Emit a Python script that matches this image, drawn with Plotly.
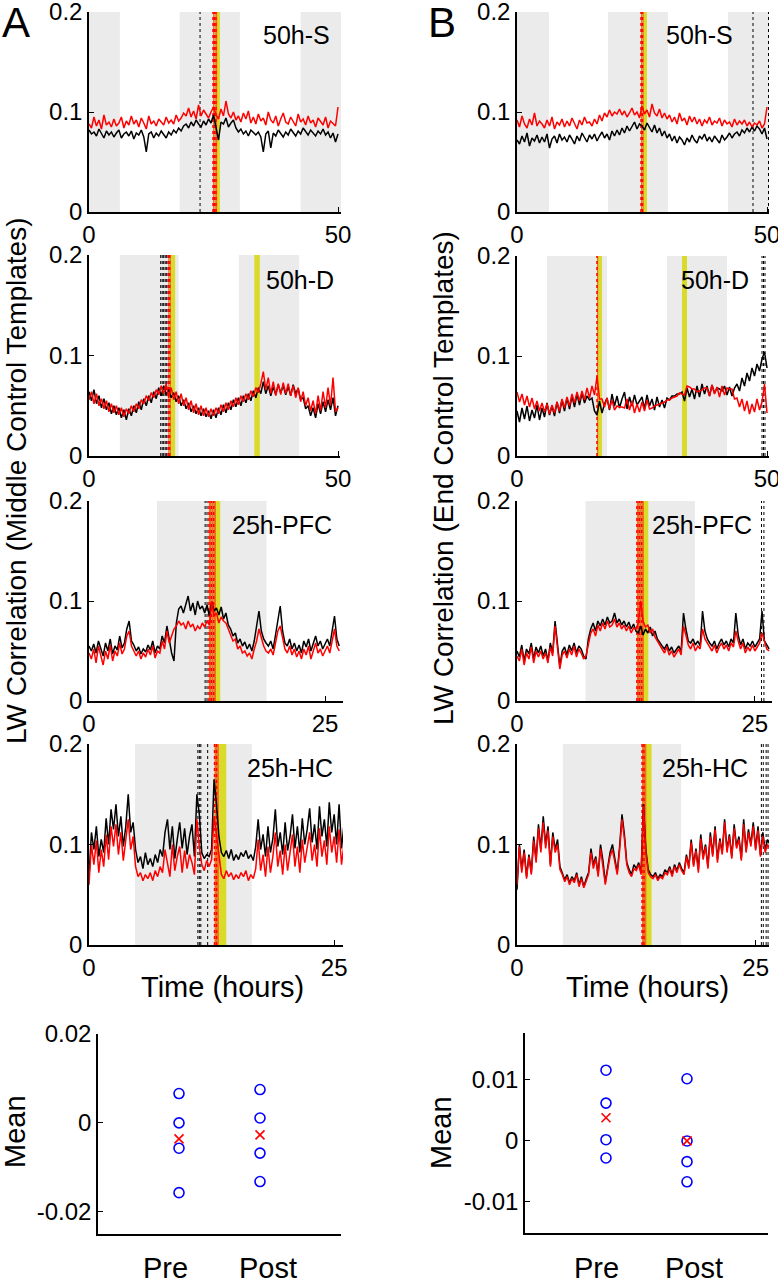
import numpy as np
import plotly.graph_objects as go

# sample times (hours)
hours_50 = np.arange(101) * 0.5
hours_25 = np.arange(107) * 0.25

# LW correlation traces, in units of 0.001
a1_black = [82,78,80,76,83,79,74,81,77,80, 75,79,82,74,78,80,76,81,73,79,
            77,82,75,60,78,80,74,79,76,81, 78,74,80,77,82,79,84,81,86,88,
            84,90,86,92,88,85,91,87,93,89, 97,86,72,90,88,94,85,89,92,84,
            80,83,78,81,76,82,79,77,80,75, 60,78,81,64,79,76,82,78,75,80,
            77,83,79,76,81,78,84,80,77,82, 79,76,81,78,83,77,80,74,79,70,78]
a1_red = [88,84,95,86,92,83,97,87,90,85, 93,86,89,95,84,91,87,96,88,92,
          85,94,89,83,96,88,91,86,93,90, 87,95,89,92,88,97,91,94,99,96,
          104,95,101,93,107,96,102,98,94,100, 105,97,93,103,96,111,98,94,100,92,
          96,90,99,93,101,89,95,88,98,91, 94,87,100,92,89,96,86,93,99,90,
          88,95,91,86,98,90,93,87,96,89, 92,85,94,90,87,95,84,91,88,86,105]
b1_black = [72,68,76,70,79,66,74,71,77,69, 75,70,78,64,73,76,69,78,72,75,
            70,77,73,68,76,71,79,74,70,77, 73,78,71,76,80,74,78,72,81,76,
            82,77,84,79,86,81,85,90,83,88, 86,82,89,84,80,87,79,84,76,81,
            74,78,71,76,69,75,72,67,74,70, 77,72,69,76,73,78,71,75,70,76,
            73,69,77,72,75,79,74,78,80,76, 82,79,84,80,85,81,86,83,78,84,73]
b1_red = [92,85,96,88,84,93,87,99,86,91, 88,84,92,86,95,83,90,87,93,85,
          91,86,94,88,83,92,87,95,89,90, 86,93,88,97,91,99,95,102,96,100,
          98,103,97,101,95,99,104,97,100,94, 106,98,102,95,108,99,96,103,94,99,
          93,97,90,95,88,99,91,94,87,96, 90,95,88,93,86,92,89,95,87,91,
          89,94,86,92,88,90,85,93,87,91, 88,92,86,90,85,89,87,91,84,88,105]
a2_black = [64,55,66,52,60,48,57,46,53,42, 50,41,48,38,46,36,47,40,50,43,
            54,46,57,50,60,53,64,57,68,60, 70,61,66,58,63,54,60,50,56,47,
            53,44,50,42,48,40,47,39,45,37, 46,38,48,41,51,43,53,46,56,49,
            58,50,60,53,62,55,65,58,68,62, 74,62,70,60,69,61,71,63,70,61,
            69,60,71,62,67,56,58,47,50,40, 48,38,52,42,54,44,56,46,58,40,50]
a2_red = [56,64,52,62,50,57,47,55,44,52, 43,50,41,48,39,47,42,50,44,52,
          47,56,52,60,55,63,58,66,61,70, 62,72,58,68,56,64,52,62,50,58,
          46,55,43,52,41,50,40,48,39,47, 40,48,42,51,44,53,46,55,49,58,
          51,60,54,62,56,65,59,68,63,72, 84,66,78,62,74,60,72,61,73,62,
          72,60,70,58,68,54,64,50,58,45, 55,42,60,45,64,48,68,50,78,44,48]
b2_black = [45,34,48,37,50,35,46,38,51,36, 48,39,53,41,50,40,54,43,56,45,
            58,47,60,49,62,51,63,53,60,56, 58,45,41,55,43,52,58,46,62,50,
            60,48,57,64,47,59,50,61,51,55, 59,47,61,50,57,46,59,49,56,48,
            58,56,60,60,62,62,64,55,68,59, 67,57,70,59,72,62,70,60,71,63,
            68,67,65,70,61,69,60,68,72,65, 78,70,83,75,88,80,92,85,97,104,88]
b2_red = [64,54,62,51,60,49,58,47,55,45, 53,44,52,42,51,43,54,45,57,48,
          59,50,62,53,64,55,65,56,68,58, 70,61,80,57,57,49,58,47,56,46,
          50,49,49,48,57,46,55,43,52,44, 54,45,56,47,48,50,51,52,53,54,
          56,56,58,59,60,63,62,61,70,69, 67,67,64,65,66,68,68,60,71,62,
          69,59,70,61,68,67,67,57,58,49, 57,45,55,42,52,44,57,46,54,72,43]
a3_black = [55,50,57,48,60,52,45,58,50,62, 47,55,51,65,53,58,72,80,60,56,
            50,54,47,52,49,56,51,60,48,55, 52,65,58,75,62,48,40,78,92,95,
            88,97,105,90,98,86,100,92,95,88, 96,85,99,90,93,86,94,82,88,76,
            72,65,68,58,62,55,59,52,57,50, 60,75,90,70,62,58,55,60,52,66,
            82,95,70,58,55,62,52,58,50,56, 48,60,54,62,50,58,65,55,60,52,
            58,62,55,68,85,62,55]
a3_red = [48,42,52,38,55,45,36,50,42,56, 40,50,45,58,47,52,65,70,55,50,
          45,50,42,48,44,52,46,55,43,50, 48,60,52,70,58,65,72,75,80,76,
          78,72,80,74,77,70,75,72,78,74, 80,76,100,85,88,78,84,80,78,72,
          66,60,62,52,55,48,50,45,48,42, 52,60,72,62,55,50,48,52,46,58,
          70,75,62,52,48,55,46,52,44,50, 42,52,46,55,42,50,58,48,52,45,
          50,55,48,60,72,55,50]
b3_black = [50,44,56,40,52,47,58,42,54,48, 55,45,52,40,58,48,80,60,35,50,
            54,46,56,50,58,48,55,52,45,42, 62,72,78,70,80,75,82,76,84,78,
            80,88,78,82,76,80,74,79,72,77, 70,68,75,66,72,68,74,65,70,62,
            58,55,52,57,50,54,48,52,55,50, 88,72,60,58,62,56,60,55,90,70,
            62,58,55,60,52,58,62,56,60,54, 62,58,88,66,56,62,52,58,55,60,
            54,58,62,90,60,56,52]
b3_red = [45,40,52,36,48,42,54,38,50,44, 50,42,48,38,54,45,75,55,32,46,
          50,43,52,46,55,44,52,48,42,45, 58,68,72,65,76,70,78,72,80,74,
          76,82,74,78,72,76,70,75,68,73, 72,78,100,80,74,76,68,72,64,60,
          56,52,48,54,46,50,44,48,52,46, 75,66,56,52,58,50,55,52,72,62,
          58,54,50,56,48,54,58,52,56,50, 58,54,70,60,52,58,48,54,50,56,
          50,54,58,68,60,52,50]
a4_black = [68,112,95,118,88,105,92,126,100,135, 115,140,108,128,98,118,150,112,122,95,
            82,88,76,92,80,86,78,90,82,95, 88,112,125,95,118,86,105,122,96,116,
            90,108,120,88,150,130,92,86,90,88, 95,165,140,108,92,88,94,86,95,84,
            90,85,92,88,94,86,90,84,98,125, 95,110,88,118,92,106,135,98,112,90,
            122,94,108,130,96,118,92,126,100,115, 136,102,120,95,138,108,125,98,142,112,
            130,100,140,96,120,110,105]
a4_red = [60,100,80,104,72,95,78,110,85,118, 98,120,90,112,84,105,125,95,108,78,
          68,72,64,70,66,72,64,74,68,78, 72,95,80,68,100,74,88,98,72,94,
          76,90,82,70,125,98,80,74,84,78, 85,128,110,92,70,66,74,68,72,65,
          70,66,72,68,74,64,70,66,76,105, 74,90,68,98,72,88,112,78,94,70,
          100,74,90,110,78,98,72,105,82,95, 112,84,100,78,116,88,104,80,118,92,
          108,82,115,80,100,90,85]
b4_black = [55,100,75,95,68,90,72,108,85,120, 95,128,100,118,80,112,95,105,78,72,
            65,70,62,68,64,72,60,68,58,66, 72,96,80,88,70,100,84,62,78,92,
            100,86,72,98,130,110,82,75,70,80, 76,82,72,140,95,75,70,68,72,66,
            70,68,75,72,78,70,80,74,82,76, 72,90,78,105,80,96,75,110,88,100,
            78,112,90,118,85,106,92,125,95,110, 88,120,98,108,86,125,94,115,100,122,
            96,118,90,112,95,105,100]
b4_red = [60,98,72,92,66,88,70,104,82,116, 92,122,96,114,78,108,92,100,75,70,
          63,68,60,66,62,70,58,66,57,64, 70,92,76,86,68,96,80,60,75,88,
          95,82,70,94,125,106,80,72,68,76, 74,80,70,138,92,72,68,66,70,64,
          68,66,72,70,76,68,78,72,80,74, 70,88,76,102,78,94,72,106,85,98,
          76,108,88,115,82,104,90,122,92,108, 86,116,96,105,84,120,92,112,98,118,
          94,114,88,108,92,100,96]

# event markers per panel (hours)
gray_periods = {
    "a1": [(0, 6.2), (18.2, 30.3), (42.5, 50.6)],
    "b1": [(0, 6.4), (18.2, 30.2), (42.2, 50.4)],
    "a2": [(6.2, 18), (30.1, 42.2)],
    "b2": [(6, 18), (30, 42)],
    "a3": [(7.2, 18.8)],
    "b3": [(7.2, 18.7)],
    "a4": [(4.7, 16.6)],
    "b4": [(4.8, 17.2)],
}
black_marks = {
    "a1": [22.3], "b1": [47.2, 50.3],
    "a2": [14.4, 14.7, 15.0, 15.3, 15.6], "b2": [49.0, 49.3, 49.6],
    "a3": [12.3, 12.5], "b3": [25.7, 25.95],
    "a4": [11.1, 11.25, 11.4, 12.1], "b4": [25.6, 25.8, 26.1, 26.3],
}
red_marks = {
    "a1": [24.9, 25.2, 25.5], "b1": [24.8, 25.1],
    "a2": [15.9, 16.2], "b2": [16.0],
    "a3": [12.7, 12.95, 13.2], "b3": [12.6, 12.85, 13.1],
    "a4": [12.8, 13.0], "b4": [13.1, 13.3],
}
yellow_periods = {
    "a1": [(25.4, 26.3)], "b1": [(25.1, 26.0)],
    "a2": [(16.3, 17.3), (33.2, 34.3)], "b2": [(16.2, 17.0), (33.0, 34.0)],
    "a3": [(13.2, 13.9)], "b3": [(13.1, 13.8)],
    "a4": [(13.1, 14.0)], "b4": [(13.4, 14.1)],
}
panel_names = {"a1": "50h-S", "b1": "50h-S", "a2": "50h-D", "b2": "50h-D",
               "a3": "25h-PFC", "b3": "25h-PFC", "a4": "25h-HC", "b4": "25h-HC"}

# summary means
groups = ["Pre", "Post"]
a_pre = [0.0066, 0.0, -0.0057, -0.0157]
a_post = [0.0075, 0.0011, -0.0068, -0.0132]
a_avg = [-0.0036, -0.0027]
b_pre = [0.0116, 0.0062, 0.0002, -0.0028]
b_post = [0.0102, 0.0, -0.0034, -0.0067]
b_avg = [0.0038, 0.0]

W, H = 778, 1280
FONT = "Arial, Liberation Sans, sans-serif"


def xd(p0, p1):
    return [p0 / W, p1 / W]


def yd(top, bottom):
    return [1 - bottom / H, 1 - top / H]


# key: (black, red, hours, xmax, xtick, x pixel span, y pixel span, label pos)
panels = {
    "a1": (a1_black, a1_red, hours_50, 50.6, 50, (89, 341), (12, 212), (296, 35)),
    "b1": (b1_black, b1_red, hours_50, 50.4, 50, (517, 769), (12, 212), (699, 35)),
    "a2": (a2_black, a2_red, hours_50, 50.4, 50, (89, 340), (255, 456), (300, 280)),
    "b2": (b2_black, b2_red, hours_50, 50.4, 50, (517, 769), (256, 456), (715, 280)),
    "a3": (a3_black, a3_red, hours_25, 26.9, 25, (89, 343), (501, 701), (282, 525)),
    "b3": (b3_black, b3_red, hours_25, 26.8, 25, (517, 772), (501, 701), (702, 525)),
    "a4": (a4_black, a4_red, hours_25, 25.9, 25, (89, 343), (744, 945), (290, 768)),
    "b4": (b4_black, b4_red, hours_25, 26.4, 25, (517, 769), (744, 945), (705, 768)),
}

fig = go.Figure()
shapes = []
annotations = []
axis_style = dict(showline=True, linecolor="black", linewidth=1.5, mirror=False,
                  ticks="inside", ticklen=5, tickwidth=1.2, tickcolor="black",
                  showgrid=False, zeroline=False, automargin=False,
                  ticklabeloverflow="allow",
                  tickfont=dict(family=FONT, size=24, color="black"))


def note(text, x, y, size, angle=0):
    return dict(text=text, x=x / W, y=1 - y / H, xref="paper", yref="paper",
                xanchor="center", yanchor="middle", showarrow=False, textangle=angle,
                font=dict(family=FONT, size=size, color="black"))


for i, (key, (blk, red, hrs, xmax, xt, xpx, ypx, lab)) in enumerate(panels.items(), start=1):
    xa, ya = ("x", "y") if i == 1 else (f"x{i}", f"y{i}")
    xname = "xaxis" if i == 1 else f"xaxis{i}"
    yname = "yaxis" if i == 1 else f"yaxis{i}"
    fig.add_trace(go.Scatter(x=hrs, y=np.array(blk) / 1000, mode="lines",
                             line=dict(color="black", width=1.5), xaxis=xa, yaxis=ya,
                             showlegend=False))
    fig.add_trace(go.Scatter(x=hrs, y=np.array(red) / 1000, mode="lines",
                             line=dict(color="#ff0000", width=1.5), xaxis=xa, yaxis=ya,
                             showlegend=False))
    fig.layout[xname] = dict(domain=xd(*xpx), range=[0, xmax], tickvals=[0, xt],
                             anchor=ya, **axis_style)
    fig.layout[yname] = dict(domain=yd(*ypx), range=[0, 0.2], tickvals=[0, 0.1, 0.2],
                             ticktext=["0", "0.1", "0.2"], anchor=xa, **axis_style)
    yref = f"{ya} domain"
    for g0, g1 in gray_periods[key]:
        shapes.append(dict(type="rect", xref=xa, yref=yref, x0=g0, x1=g1, y0=0, y1=1,
                           fillcolor="#ebebeb", line_width=0, layer="below"))
    for y0, y1 in yellow_periods[key]:
        shapes.append(dict(type="rect", xref=xa, yref=yref, x0=y0, x1=y1, y0=0, y1=1,
                           fillcolor="#dada2a", line_width=0, layer="below"))
    for v in red_marks[key]:
        shapes.append(dict(type="rect", xref=xa, yref=yref, x0=v, x1=v + 0.25, y0=0, y1=1,
                           fillcolor="#f07020", line_width=0, layer="below"))
        shapes.append(dict(type="line", xref=xa, yref=yref, x0=v, x1=v, y0=0, y1=1,
                           line=dict(color="red", width=1.5, dash="dot"), layer="below"))
    for v in black_marks[key]:
        shapes.append(dict(type="line", xref=xa, yref=yref, x0=v, x1=v, y0=0, y1=1,
                           line=dict(color="black", width=1, dash="dot"), layer="below"))
    annotations.append(note(panel_names[key], lab[0], lab[1], 25))

# mean panels
mean_panels = [
    (a_pre, a_post, a_avg, (98, 341), (1034, 1234), [-0.025, 0.02],
     [-0.02, 0, 0.02], ["-0.02", "0", "0.02"], [165, 268]),
    (b_pre, b_post, b_avg, (525, 768), (1033, 1233), [-0.0151, 0.0177],
     [-0.01, 0, 0.01], ["-0.01", "0", "0.01"], [596, 694]),
]
for j, (pre, post, avg, xpx, ypx, yr, tv, tt, labx) in enumerate(mean_panels, start=9):
    xa, ya = f"x{j}", f"y{j}"
    fig.add_trace(go.Scatter(x=[1] * len(pre) + [2] * len(post), y=pre + post,
                             mode="markers", xaxis=xa, yaxis=ya, showlegend=False,
                             marker=dict(symbol="circle-open", size=10, color="blue",
                                         line=dict(width=1.6, color="blue"))))
    fig.add_trace(go.Scatter(x=[1, 2], y=avg, mode="markers", xaxis=xa, yaxis=ya,
                             showlegend=False,
                             marker=dict(symbol="x-thin-open", size=9, color="red",
                                         line=dict(width=1.6, color="red"))))
    fig.layout[f"xaxis{j}"] = dict(domain=xd(*xpx), range=[0, 3], showticklabels=False,
                                   anchor=ya, **{**axis_style, "ticks": ""})
    fig.layout[f"yaxis{j}"] = dict(domain=yd(*ypx), range=yr, tickvals=tv, ticktext=tt,
                                   anchor=xa, **axis_style)
    for lx, g in zip(labx, groups):
        annotations.append(note(g, lx, 1268, 29))

annotations += [
    note("A", 16, 22, 42),
    note("B", 442, 22, 42),
    note("LW Correlation (Middle Control Templates)", 17, 481, 28, -90),
    note("LW Correlation (End Control Templates)", 443, 478, 28, -90),
    note("Time (hours)", 222, 987, 29),
    note("Time (hours)", 647, 987, 29),
    note("Mean", 15, 1132, 29, -90),
    note("Mean", 441, 1133, 29, -90),
]

fig.update_layout(width=W, height=H,
                  margin=dict(l=0, r=0, t=0, b=0, autoexpand=False),
                  paper_bgcolor="white", plot_bgcolor="white",
                  shapes=shapes, annotations=annotations)

fig.write_html("out.html", config={"displayModeBar": False},
               post_script="document.body.style.margin = '0';")
